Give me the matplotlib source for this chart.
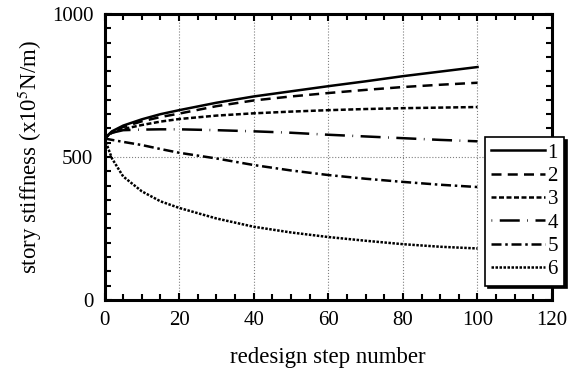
import matplotlib.pyplot as plt
import numpy as np
from matplotlib.ticker import MultipleLocator

plt.rcParams['font.family'] = ['Liberation Serif', 'DejaVu Serif']
plt.rcParams['mathtext.fontset'] = 'stix'

# redesign step vs story stiffness (x10^5 N/m)
steps = [0, 2, 5, 10, 15, 20, 30, 40, 50, 60, 70, 80, 90, 100]
k1 = [565, 590, 610, 632, 650, 664, 690, 712, 730, 748, 765, 783, 799, 815]
k2 = [565, 588, 605, 625, 640, 652, 678, 698, 712, 724, 735, 745, 753, 760]
k3 = [565, 585, 598, 612, 624, 633, 645, 653, 659, 664, 668, 671, 673, 675]
k4 = [565, 585, 594, 596, 597, 597, 594, 590, 585, 578, 572, 566, 560, 555]
k5 = [565, 560, 553, 542, 528, 515, 495, 472, 453, 437, 424, 413, 403, 395]
k6 = [565, 495, 432, 380, 345, 322, 285, 256, 236, 220, 207, 195, 186, 180]
labels = ['1', '2', '3', '4', '5', '6']

styles = ['-', (0, (4, 2.5)), (0, (2, 1)), (0, (0.3, 3, 8, 3)), (0, (4, 1.5, 1, 1.5)), (0, (1, 0.6))]

fig = plt.figure(figsize=(5.68, 3.73), dpi=100)
ax = fig.add_axes([0.184, 0.196, 0.788, 0.766])

for k, ls, lab in zip([k1, k2, k3, k4, k5, k6], styles, labels):
    ax.plot(steps, k, color='black', linestyle=ls, linewidth=1.8, label=lab)

ax.set_xlim(0, 120)
ax.set_ylim(0, 1000)
ax.xaxis.set_major_locator(MultipleLocator(20))
ax.xaxis.set_minor_locator(MultipleLocator(5))
ax.yaxis.set_major_locator(MultipleLocator(500))
ax.yaxis.set_minor_locator(MultipleLocator(50))
ax.tick_params(which='both', direction='in', top=True, right=True, width=1.5, labelsize=15)
ax.tick_params(which='major', length=5, pad=8)
ax.tick_params(which='minor', length=4)
ax.grid(which='major', color='gray', linestyle=':', linewidth=0.8)
for s in ax.spines.values():
    s.set_linewidth(2.2)

ax.set_xlabel('redesign step number', fontsize=16.5, labelpad=12)
ax.set_ylabel('story stiffness (x10$^5$N/m)', fontsize=16.5, labelpad=6)

leg = ax.legend(loc='upper left', bbox_to_anchor=(0.854, 0.633), bbox_transform=fig.transFigure,
                borderaxespad=0, fontsize=15, handlelength=2.6, handletextpad=0.1,
                labelspacing=0.18, borderpad=0.3, fancybox=False,
                shadow={'color': 'black', 'alpha': 1}, framealpha=1)
leg.get_frame().set_edgecolor('black')
leg.get_frame().set_linewidth(1.2)

fig.savefig('out.png', dpi=100)
